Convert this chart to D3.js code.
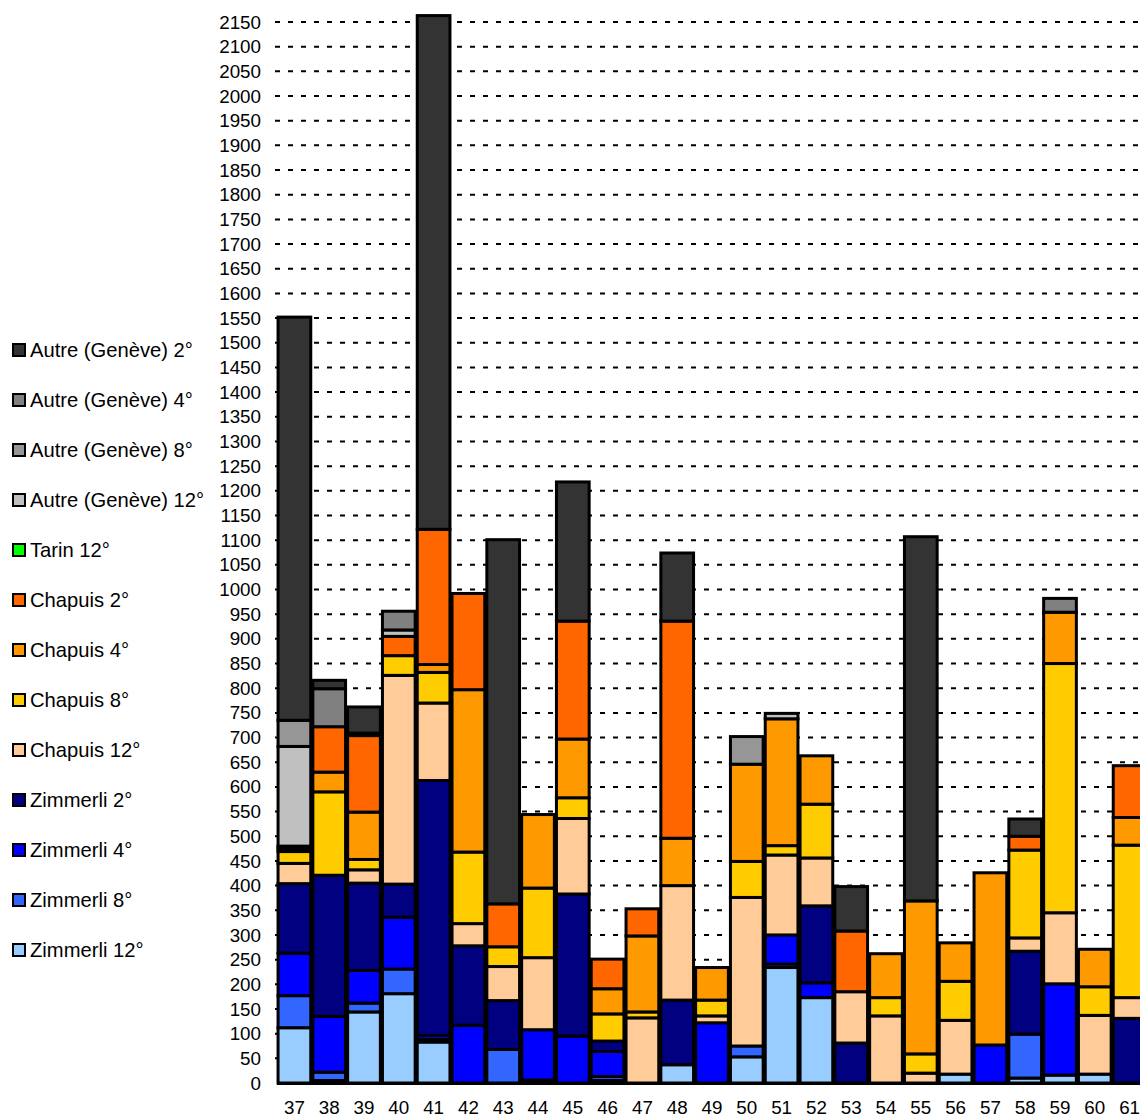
<!DOCTYPE html>
<html>
  <head>
    <script src="https://d3js.org/d3.v7.min.js"></script>
  </head>
  <body>
    <svg id="viz" width="1140" height="1119"></svg>
  </body>
  <script>
    const categories = [37, 38, 39, 40, 41, 42, 43, 44, 45, 46, 47, 48, 49, 50, 51, 52, 53, 54, 55, 56, 57, 58, 59, 60, 61];

    // series, bottom of the stack first
    const zimmerli12 = [112, 5, 144, 181, 83, 0, 0, 6, 0, 5, 0, 37, 0, 53, 234, 173, 0, 0, 0, 18, 0, 10, 16, 18, 0];
    const zimmerli8 = [65, 17, 18, 50, 5, 0, 68, 0, 0, 8, 0, 0, 0, 22, 7, 0, 0, 0, 0, 0, 0, 89, 0, 0, 0];
    const zimmerli4 = [86, 113, 66, 105, 8, 117, 0, 102, 95, 51, 0, 0, 122, 0, 59, 30, 0, 0, 0, 0, 77, 0, 185, 0, 0];
    const zimmerli2 = [141, 286, 177, 67, 517, 161, 99, 0, 288, 21, 0, 131, 0, 0, 0, 156, 81, 0, 0, 0, 0, 168, 0, 0, 131];
    const chapuis12 = [41, 0, 27, 423, 157, 45, 69, 146, 153, 0, 132, 232, 14, 301, 162, 97, 104, 136, 20, 109, 0, 27, 144, 119, 42];
    const chapuis8 = [24, 169, 21, 40, 62, 145, 40, 141, 42, 55, 12, 0, 32, 73, 19, 109, 0, 37, 39, 79, 0, 178, 505, 58, 309];
    const chapuis4 = [6, 40, 96, 0, 16, 329, 0, 149, 119, 51, 154, 96, 66, 197, 257, 98, 0, 89, 310, 78, 349, 0, 104, 76, 56];
    const chapuis2 = [5, 92, 155, 39, 274, 195, 87, 0, 239, 60, 55, 440, 0, 0, 0, 0, 123, 0, 0, 0, 0, 28, 0, 0, 105];
    const tarin12 = [0, 0, 0, 0, 0, 0, 0, 0, 0, 0, 0, 0, 0, 0, 0, 0, 0, 0, 0, 0, 0, 0, 0, 0, 0];
    const autre12 = [202, 0, 0, 13, 0, 0, 0, 0, 0, 0, 0, 0, 0, 0, 11, 0, 0, 0, 0, 0, 0, 0, 0, 0, 0];
    const autre8 = [53, 0, 0, 0, 0, 0, 0, 0, 0, 0, 0, 0, 0, 56, 0, 0, 0, 0, 0, 0, 0, 0, 0, 0, 0];
    const autre4 = [0, 77, 5, 38, 0, 0, 0, 0, 0, 0, 0, 0, 0, 0, 0, 0, 0, 0, 0, 0, 0, 0, 28, 0, 0];
    const autre2 = [817, 17, 53, 0, 1041, 0, 738, 0, 282, 0, 0, 138, 0, 0, 0, 0, 90, 0, 738, 0, 0, 35, 0, 0, 0];

    const seriesNames = [
      "Zimmerli 12°", "Zimmerli 8°", "Zimmerli 4°", "Zimmerli 2°",
      "Chapuis 12°", "Chapuis 8°", "Chapuis 4°", "Chapuis 2°",
      "Tarin 12°",
      "Autre (Genève) 12°", "Autre (Genève) 8°", "Autre (Genève) 4°", "Autre (Genève) 2°"
    ];
    const seriesValues = [
      zimmerli12, zimmerli8, zimmerli4, zimmerli2,
      chapuis12, chapuis8, chapuis4, chapuis2,
      tarin12,
      autre12, autre8, autre4, autre2
    ];
    const seriesColors = [
      "#99ccff", "#3366ff", "#0000ff", "#000080",
      "#ffcc99", "#ffcc00", "#ff9900", "#ff6600",
      "#00ff00",
      "#c0c0c0", "#969696", "#808080", "#333333"
    ];
    const yTicks = d3.range(0, 2151, 50);

    function draw() {
      const svg = d3.select("svg#viz");
      const width = 1140;
      const font = "'Liberation Sans', Arial, sans-serif";

      const table = categories.map((c, i) => {
        const row = { cat: c };
        seriesNames.forEach((name, s) => (row[name] = seriesValues[s][i]));
        return row;
      });
      const stacked = d3.stack().keys(seriesNames)(table);

      const xScale = d3
        .scaleBand()
        .domain(categories)
        .range([277, 277 + 34.8 * categories.length])
        .paddingInner(0.06)
        .paddingOuter(0.03);

      const yScale = d3.scaleLinear().domain([0, 2150]).range([1083, 22]);

      // dotted grid
      svg
        .append("g")
        .selectAll("line")
        .data(yTicks.filter((t) => t > 0))
        .join("line")
        .attr("x1", 275)
        .attr("x2", width)
        .attr("y1", (d) => yScale(d))
        .attr("y2", (d) => yScale(d))
        .attr("stroke", "#000")
        .attr("stroke-width", 2)
        .attr("stroke-dasharray", "5,8");

      // y labels
      svg
        .append("g")
        .selectAll("text")
        .data(yTicks)
        .join("text")
        .attr("x", 261)
        .attr("y", (d) => yScale(d))
        .attr("dy", "0.35em")
        .attr("text-anchor", "end")
        .attr("font-family", font)
        .attr("font-size", 18.8)
        .text((d) => d);

      // bars
      svg
        .append("g")
        .selectAll("g")
        .data(stacked)
        .join("g")
        .attr("fill", (d, i) => seriesColors[i])
        .selectAll("rect")
        .data((d) => d.filter((p) => p[1] - p[0] > 0))
        .join("rect")
        .attr("x", (d) => xScale(d.data.cat))
        .attr("width", xScale.bandwidth())
        .attr("y", (d) => yScale(d[1]))
        .attr("height", (d) => yScale(d[0]) - yScale(d[1]))
        .attr("stroke", "#000")
        .attr("stroke-width", 3);

      // x axis line and labels
      svg
        .append("line")
        .attr("x1", 277)
        .attr("x2", width)
        .attr("y1", yScale(0) + 1)
        .attr("y2", yScale(0) + 1)
        .attr("stroke", "#000")
        .attr("stroke-width", 2);

      svg
        .append("g")
        .selectAll("text")
        .data(categories)
        .join("text")
        .attr("x", (d) => xScale(d) + xScale.bandwidth() / 2)
        .attr("y", 1107)
        .attr("dy", "0.35em")
        .attr("text-anchor", "middle")
        .attr("font-family", font)
        .attr("font-size", 18.8)
        .text((d) => d);

      // legend, top of stack first
      const legendOrder = d3.range(seriesNames.length).reverse();
      const legend = svg
        .append("g")
        .selectAll("g")
        .data(legendOrder)
        .join("g")
        .attr("transform", (d, i) => `translate(12, ${350 + i * 50})`);

      legend
        .append("rect")
        .attr("x", 1)
        .attr("y", -6)
        .attr("width", 12)
        .attr("height", 12)
        .attr("fill", (d) => seriesColors[d])
        .attr("stroke", "#000")
        .attr("stroke-width", 2);

      legend
        .append("text")
        .attr("x", 18)
        .attr("y", 0)
        .attr("dy", "0.35em")
        .attr("font-family", font)
        .attr("font-size", 20.2)
        .text((d) => seriesNames[d]);
    }

    draw();
  </script>
  <style>
    body {
      margin: 0px;
    }
  </style>
</html>
